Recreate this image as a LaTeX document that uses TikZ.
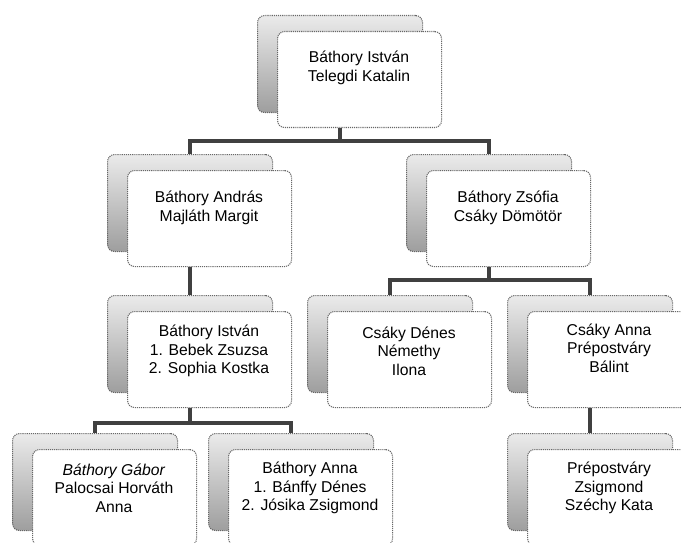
\documentclass[tikz,border=0pt]{standalone}
\usepackage{fontspec}
\setmainfont{Liberation Sans}

\tikzset{
	backbox/.style={rectangle,rounded corners=7pt,anchor=north west,inner sep=0pt,
		minimum width=165pt,minimum height=97pt,draw=black!60,densely dotted,line width=1.1pt,
		top color=black!8,bottom color=black!38},
	frontbox/.style={rectangle,rounded corners=7pt,anchor=north west,inner sep=0pt,
		minimum width=164pt,minimum height=96pt,draw=black!60,densely dotted,line width=1.1pt,fill=white},
	nametext/.style={align=center,inner sep=0pt,font=\fontsize{15.7}{18.5}\selectfont,text=black},
	link/.style={draw=black!75,line width=3.3pt}
}

\begin{document}
\begin{tikzpicture}[x=1pt,y=-1pt]
	\clip (0,0) rectangle (681,543);

	\node [backbox] (top) at (257,15) {};
	\node [frontbox] (topf) at (277,31) {};
	\node [nametext] at (359,68) {Báthory István\\Telegdi Katalin};

	\node [backbox] (andras) at (107,154) {};
	\node [frontbox] (andrasf) at (127,170) {};
	\node [nametext] at (209,208) {Báthory András\\Majláth Margit};

	\node [backbox] (zsofia) at (406,154) {};
	\node [frontbox] (zsofiaf) at (426,170) {};
	\node [nametext] at (508,208) {Báthory Zsófia\\Csáky Dömötör};

	\node [backbox] (istvan) at (107,295) {};
	\node [frontbox] (istvanf) at (127,311) {};
	\node [nametext] at (209,351) {Báthory István\\1. Bebek Zsuzsa\\2. Sophia Kostka};

	\node [backbox] (denes) at (307,295) {};
	\node [frontbox] (denesf) at (327,311) {};
	\node [nametext] at (409,351) {Csáky Dénes\\Némethy\\Ilona};

	\node [backbox] (canna) at (507,295) {};
	\node [frontbox] (cannaf) at (527,311) {};
	\node [nametext] at (609,348) {Csáky Anna\\Prépostváry\\Bálint};

	\node [backbox] (gabor) at (12,433) {};
	\node [frontbox] (gaborf) at (32,449) {};
	\node [nametext] at (114,488) {\textit{Báthory Gábor}\\Palocsai Horváth\\Anna};

	\node [backbox] (banna) at (208,433) {};
	\node [frontbox] (bannaf) at (228,449) {};
	\node [nametext] at (310,488) {Báthory Anna\\1. Bánffy Dénes\\2. Jósika Zsigmond};

	\node [backbox] (prep) at (507,433) {};
	\node [frontbox] (prepf) at (527,449) {};
	\node [nametext] at (609,488) {Prépostváry\\Zsigmond\\Széchy Kata};

	% connectors
	\draw [link] (top |- topf.south) -- ++(0,13) -| (andras.north);
	\draw [link] (top |- topf.south) -- ++(0,13) -| (zsofia.north);
	\draw [link] (andras |- andrasf.south) -- (istvan.north);
	\draw [link] (zsofia |- zsofiaf.south) -- ++(0,13) -| (denes.north);
	\draw [link] (zsofia |- zsofiaf.south) -- ++(0,13) -| (canna.north);
	\draw [link] (istvan |- istvanf.south) -- ++(0,15) -| (gabor.north);
	\draw [link] (istvan |- istvanf.south) -- ++(0,15) -| (banna.north);
	\draw [link] (canna |- cannaf.south) -- (prep.north);
\end{tikzpicture}
\end{document}
